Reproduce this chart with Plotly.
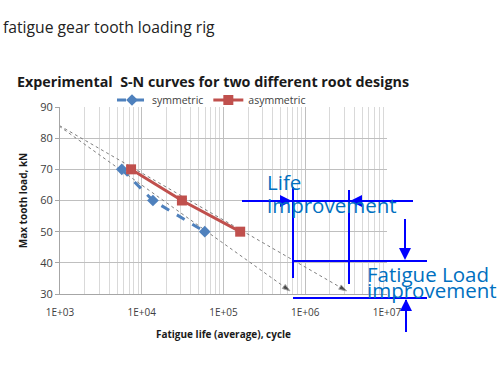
import plotly.graph_objects as go

# ---------------- data ----------------
sym_life = [5700, 13700, 59000]
sym_load = [70, 60, 50]
asym_life = [7400, 31000, 160000]
asym_load = [70, 60, 50]

# dotted guide (extrapolation) lines: start point and two end points
guide_start_life = 850
guide_start_load = 85
guide_end_life = [650000, 3200000]
guide_end_load = [31, 31]

x_tickvals = [1e3, 1e4, 1e5, 1e6, 1e7]
x_ticktext = ["1E+03", "1E+04", "1E+05", "1E+06", "1E+07"]
y_tickvals = [30, 40, 50, 60, 70, 80, 90]

# ---------------- layout helpers ----------------
W, H = 500, 380
L, R, T, B = 60, 387, 107, 294


def px(x):
    return (x - L) / (R - L)


def py(y):
    return (B - y) / (B - T)


BLUE_SER = "#4F81BD"
RED_SER = "#C0504D"
ANN_LINE = "#0000FF"
ANN_TEXT = "#0070C0"

fig = go.Figure()

# guide lines
for xe, ye in zip(guide_end_life, guide_end_load):
    fig.add_trace(go.Scatter(
        x=[guide_start_life, xe], y=[guide_start_load, ye],
        mode="lines+markers",
        line=dict(color="#7F7F7F", width=1, dash="dot"),
        marker=dict(symbol="arrow", size=[0, 8], color="black", angleref="previous"),
        showlegend=False, hoverinfo="skip", cliponaxis=False,
    ))

fig.add_trace(go.Scatter(
    x=sym_life, y=sym_load, name="symmetric", mode="lines+markers",
    line=dict(color=BLUE_SER, width=3, dash="dash"),
    marker=dict(symbol="diamond", size=9, color=BLUE_SER),
))
fig.add_trace(go.Scatter(
    x=asym_life, y=asym_load, name="asymmetric", mode="lines+markers",
    line=dict(color=RED_SER, width=3),
    marker=dict(symbol="square", size=10, color=RED_SER),
))

shapes = []


def seg(x0, y0, x1, y1):
    shapes.append(dict(type="line", xref="paper", yref="paper",
                       x0=px(x0), y0=py(y0), x1=px(x1), y1=py(y1),
                       line=dict(color=ANN_LINE, width=2)))


seg(242, 201, 413, 201)
seg(293, 187, 293, 278)
seg(349, 190, 349, 284)
seg(405, 219, 405, 258)
seg(293, 261, 427, 261)
seg(293, 298, 427, 298)
seg(406, 332, 406, 300)

annotations = []


def arrow(xt, yt, xs, ys):
    annotations.append(dict(x=px(xt), y=py(yt), xref="paper", yref="paper",
                            ax=xs - xt, ay=ys - yt, text="", showarrow=True,
                            arrowhead=2, arrowsize=1.2, arrowwidth=2,
                            arrowcolor=ANN_LINE, standoff=0))


arrow(292, 201, 275, 201)
arrow(350, 201, 367, 201)
arrow(405, 260, 405, 240)
arrow(406, 299, 406, 319)


def text(t, x, y, size, color, bold=False, anchor="left", family="Open Sans"):
    annotations.append(dict(x=px(x), y=py(y), xref="paper", yref="paper",
                            text=("<b>%s</b>" % t) if bold else t, showarrow=False,
                            xanchor=anchor, yanchor="middle",
                            font=dict(size=size, color=color, family=family)))


text("fatigue gear tooth loading rig", 1, 27, 15.7, "#222222")
text("Experimental  S-N curves for two different root designs", 15, 81, 14.3, "#1a1a1a", bold=True)
text("Life", 265, 182, 20.5, ANN_TEXT)
text("improvement", 265, 205, 20.5, ANN_TEXT)
text("Fatigue Load", 365, 274, 20.5, ANN_TEXT)
text("improvement", 365, 290, 20.5, ANN_TEXT)

fig.update_layout(
    width=W, height=H,
    margin=dict(l=L, r=W - R, t=T, b=H - B, pad=0, autoexpand=False),
    paper_bgcolor="white", plot_bgcolor="white",
    font=dict(family="Open Sans", color="#404040"),
    shapes=shapes, annotations=annotations,
    showlegend=True,
    legend=dict(orientation="h", x=px(112), y=py(100), xanchor="left", yanchor="middle",
                font=dict(size=10.5, color="#404040"), bgcolor="rgba(0,0,0,0)",
                itemwidth=30, tracegroupgap=0),
    xaxis=dict(type="log", range=[3, 7], tickvals=x_tickvals, ticktext=x_ticktext,
               showgrid=True, gridcolor="#BFBFBF", gridwidth=1,
               minor=dict(dtick="D1", showgrid=True, gridcolor="#D9D9D9", gridwidth=1, ticks=""),
               showline=True, linecolor="#A6A6A6", ticks="outside", ticklen=9,
               tickcolor="rgba(0,0,0,0)",
               tickfont=dict(size=10, color="#404040"),
               title=dict(text="<b>Fatigue life (average), cycle</b>", font=dict(size=10, color="#1a1a1a"), standoff=12),
               zeroline=False),
    yaxis=dict(range=[30, 90], tickvals=y_tickvals,
               showgrid=True, gridcolor="#BFBFBF", gridwidth=1,
               showline=True, linecolor="#A6A6A6", ticks="outside", ticklen=4, tickcolor="#A6A6A6",
               tickfont=dict(size=11, color="#404040"),
               title=dict(text="<b>Max tooth load, kN</b>", font=dict(size=10, color="#1a1a1a"), standoff=10),
               zeroline=False),
)

# remove the browser's default 8px page margin so the figure sits at the window's corner
fig.write_html("out.html", config={"displayModeBar": False},
               post_script="document.body.style.margin='0';")
